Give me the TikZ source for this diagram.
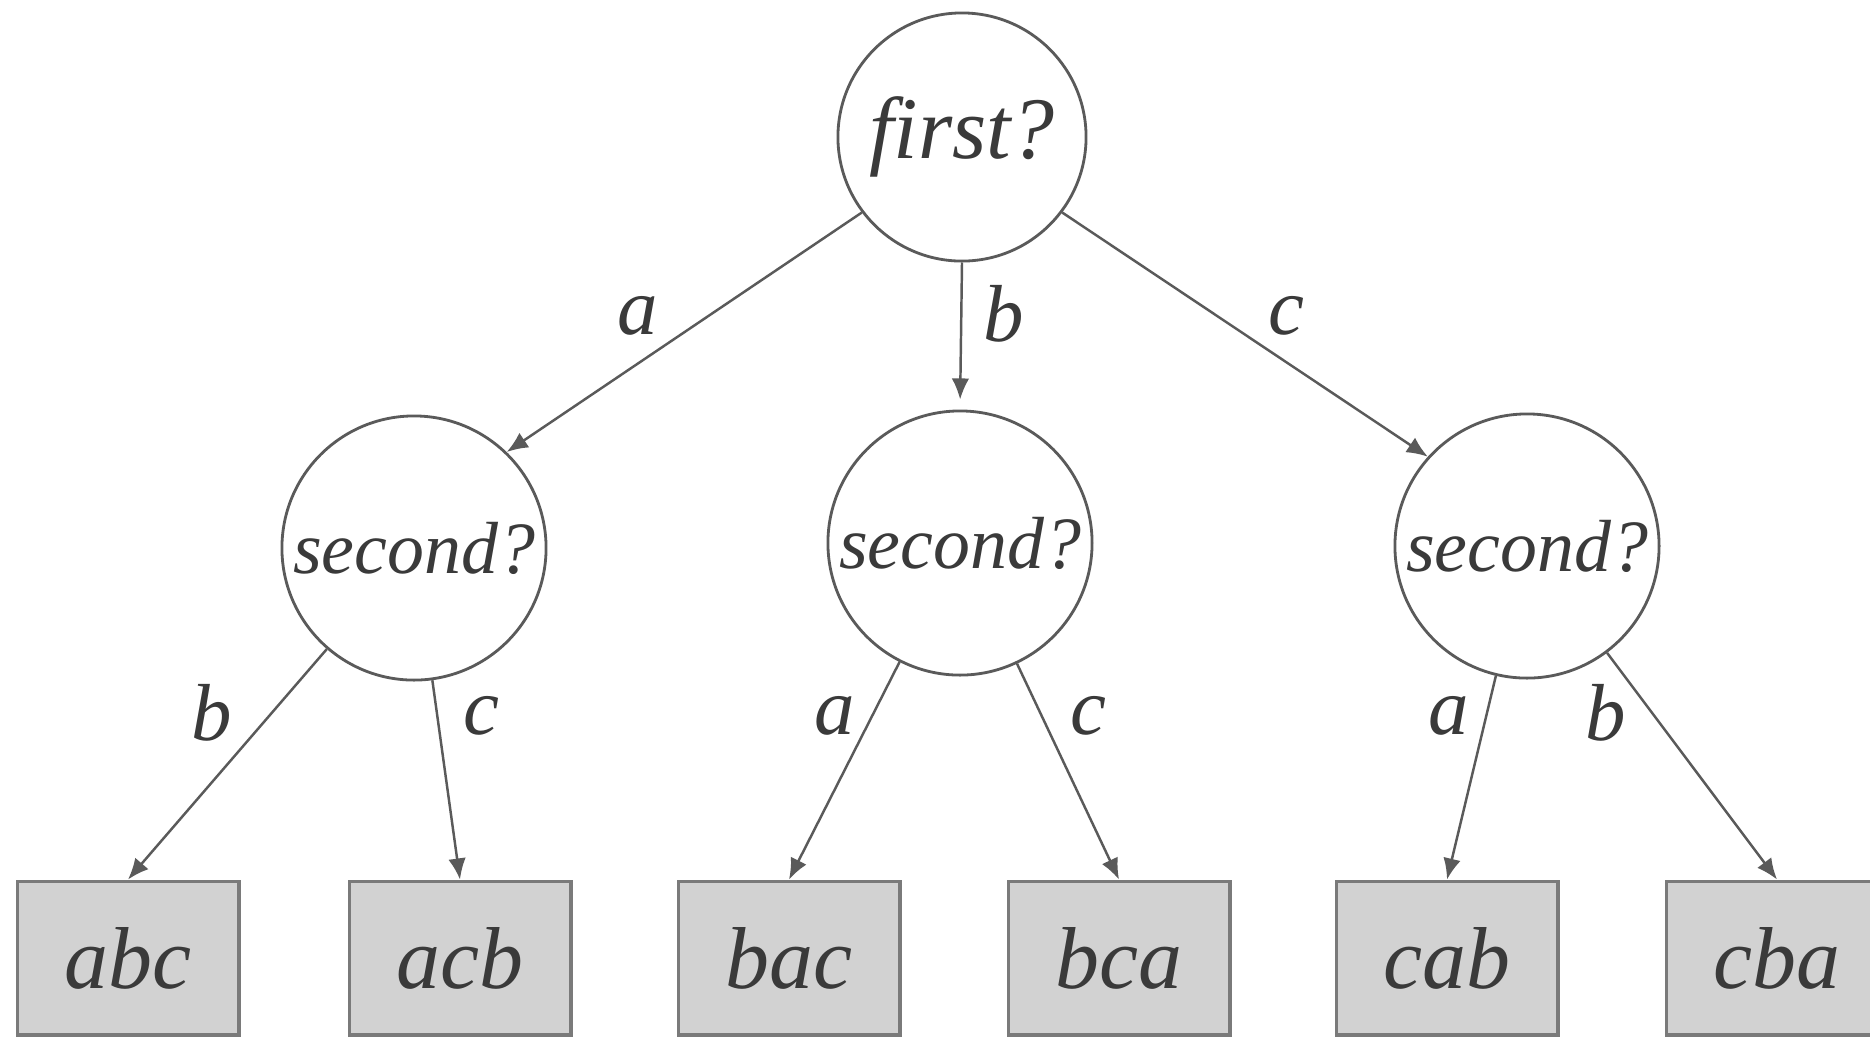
\documentclass[tikz,border=0pt]{standalone}
\usepackage{fontspec}
\setmainfont{Liberation Serif}
\usetikzlibrary{arrows.meta}
\definecolor{ink}{HTML}{3A3A3A}
\definecolor{edge}{HTML}{5A5A5A}
\definecolor{boxfill}{HTML}{D2D2D2}
\definecolor{boxline}{HTML}{7A7A7A}
\tikzset{
  qnode/.style={circle, draw=edge, line width=0.8pt, inner sep=0pt, text=ink, font=\itshape\fontsize{21}{21}\selectfont, minimum size=2.64cm},
  rootnode/.style={qnode, minimum size=2.48cm, font=\itshape\fontsize{25}{25}\selectfont},
  leaf/.style={rectangle, draw=boxline, fill=boxfill, line width=1.1pt, inner sep=0pt, minimum width=2.21cm, minimum height=1.53cm, text=ink, font=\itshape\fontsize{25}{25}\selectfont},
  arr/.style={draw=edge, line width=0.7pt, -{Latex[length=6pt,width=5pt]}},
  lab/.style={text=ink, font=\itshape\fontsize{23}{23}\selectfont, inner sep=0pt}
}
\begin{document}
\begin{tikzpicture}[x=0.01cm,y=-0.01cm]
\useasboundingbox[fill=white] (0,0) rectangle (1870,1038);
\node[rootnode] (r) at (962,137) {first?};
\node[qnode] (s1) at (414,548) {second?};
\node[qnode] (s2) at (960,543) {second?};
\node[qnode] (s3) at (1527,546) {second?};
\node[leaf] (abc) at (128,958) {abc};
\node[leaf] (acb) at (460,958) {acb};
\node[leaf] (bac) at (789,958) {bac};
\node[leaf] (bca) at (1119,958) {bca};
\node[leaf] (cab) at (1447,958) {cab};
\node[leaf] (cba) at (1777,958) {cba};

\draw[arr] (r.217) -- (s1.46);
\draw[arr, shorten >=0.1cm] (r.south) -- (s2.north);
\draw[arr] (r.323) -- (s3.138);
\draw[arr] (s1) -- (abc.north);
\draw[arr] (s1) -- (acb.north);
\draw[arr] (s2) -- (bac.north);
\draw[arr] (s2) -- (bca.north);
\draw[arr] (s3) -- (cab.north);
\draw[arr] (s3) -- (cba.north);

\node[lab] (l1) at (638,316) {a};
\node[lab] (l2) at (1004,314) {b};
\node[lab] (l3) at (1286,316) {c};
\node[lab] (l4) at (212,713) {b};
\node[lab] (l5) at (481,716) {c};
\node[lab] (l6) at (835,716) {a};
\node[lab] (l7) at (1088,716) {c};
\node[lab] (l8) at (1449,716) {a};
\node[lab] (l9) at (1606,713) {b};
\end{tikzpicture}
\end{document}
